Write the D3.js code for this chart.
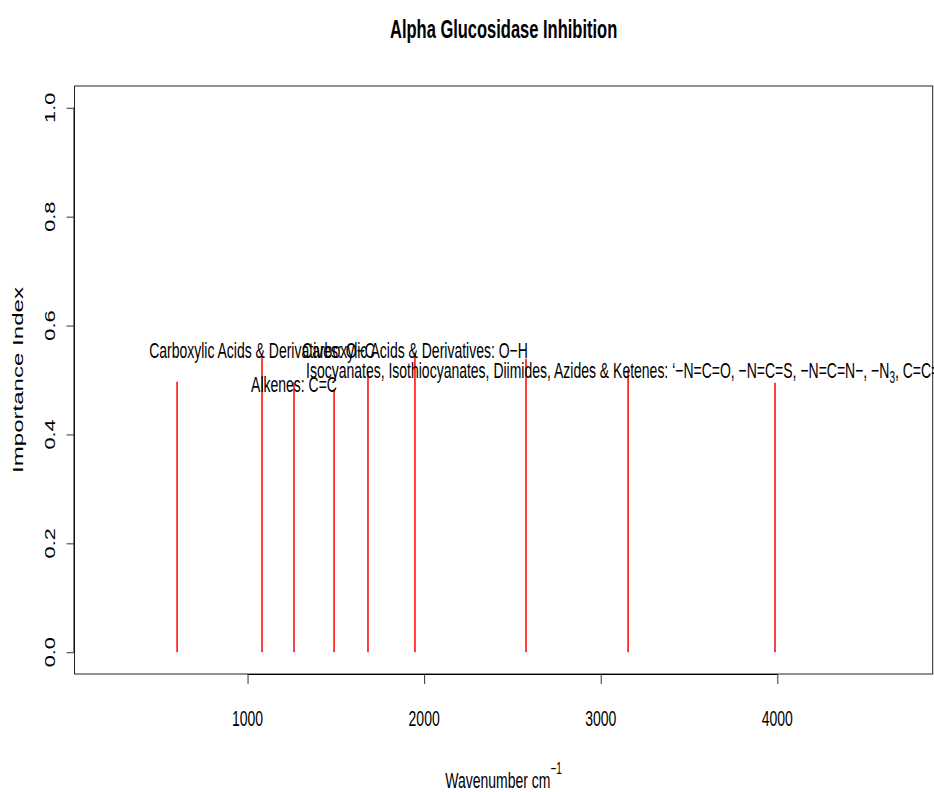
<!DOCTYPE html>
<html>
<head>
<meta charset="utf-8">
<script src="https://cdn.jsdelivr.net/npm/d3@7"></script>
<style>
  body { margin: 0; background: #fff; }
  text { font-family: "Liberation Sans", Arial, sans-serif; fill: #000; }
</style>
</head>
<body>
<div id="viz"></div>
<script>
let w = 934;
let h = 792;

// peaks
const wavenumbers = [601, 1082, 1263, 1490, 1682, 1948, 2577, 3155, 3987];
const importance = [0.497, 0.542, 0.496, 0.483, 0.515, 0.550, 0.539, 0.519, 0.495];

// labels (x in cm-1, y in importance units)
const labelX = [1082, 1263, 1948, 3155];
const labelY = [0.555, 0.492, 0.555, 0.519];
const labelText = [
    "Carboxylic Acids & Derivatives: O\u2212C",
    "Alkenes: C=C",
    "Carboxylic Acids & Derivatives: O\u2212H",
    "Isocyanates, Isothiocyanates, Diimides, Azides & Ketenes: \u2018\u2212N=C=O, \u2212N=C=S, \u2212N=C=N\u2212, \u2212N_{3}, C=C=O"
];

const xTicks = [1000, 2000, 3000, 4000];
const yTicks = [0, 0.2, 0.4, 0.6, 0.8, 1.0];

let box = {left: 74.5, right: 932.7, top: 86, bottom: 674};
let sy = 1.6; // text in the picture is stretched vertically

let svg = d3.select("#viz")
    .append("svg")
    .attr("width", w)
    .attr("height", h);

let x = d3.scaleLinear().domain([20, 4880]).range([box.left, box.right]);
let y = d3.scaleLinear().domain([-0.04, 1.04]).range([box.bottom, box.top]);

// helper for horizontal stretched text
function hText(px, py, size, str, weight) {
    let g = svg.append("g")
        .attr("transform", "translate(" + px + "," + py + ") scale(1," + sy + ")");
    let t = g.append("text")
        .attr("text-anchor", "middle")
        .attr("dy", "0.36em")
        .attr("font-size", size)
        .attr("font-weight", weight || "normal");
    return t;
}

// title
hText((box.left + box.right) / 2, 28, 16.5, "", "bold")
    .text("Alpha Glucosidase Inhibition");

// plot box
svg.append("rect")
    .attr("x", box.left)
    .attr("y", box.top)
    .attr("width", box.right - box.left)
    .attr("height", box.bottom - box.top)
    .attr("fill", "none")
    .attr("stroke", "#222")
    .attr("stroke-width", 1);

// x axis
let xAxis = d3.axisBottom(x)
    .tickValues(xTicks)
    .tickSize(10)
    .tickFormat("");
let xg = svg.append("g")
    .attr("transform", "translate(0," + box.bottom + ")")
    .call(xAxis);
xg.select(".domain")
    .attr("d", "M" + x(xTicks[0]) + ",0.5H" + x(xTicks[xTicks.length - 1]))
    .attr("stroke", "#000")
    .attr("stroke-width", 1.2);
xg.selectAll(".tick line").attr("stroke", "#333");

xTicks.forEach(function (v) {
    hText(x(v), 718, 14, "").text(d3.format("d")(v));
});

// y axis
let yAxis = d3.axisLeft(y)
    .tickValues(yTicks)
    .tickSize(8)
    .tickFormat("");
let yg = svg.append("g")
    .attr("transform", "translate(" + box.left + ",0)")
    .call(yAxis);
yg.select(".domain")
    .attr("d", "M-0.5," + y(yTicks[0]) + "V" + y(yTicks[yTicks.length - 1]))
    .attr("stroke", "#000");
yg.selectAll(".tick line").attr("stroke", "#333");

yTicks.forEach(function (v) {
    svg.append("g")
        .attr("transform", "translate(50," + y(v) + ") rotate(-90) scale(1.45,1)")
        .append("text")
        .attr("text-anchor", "middle")
        .attr("dy", "0.36em")
        .attr("font-size", 15)
        .text(d3.format(".1f")(v));
});

// axis titles
svg.append("g")
    .attr("transform", "translate(18," + ((box.top + box.bottom) / 2) + ") rotate(-90) scale(1.72,1)")
    .append("text")
    .attr("text-anchor", "middle")
    .attr("dy", "0.36em")
    .attr("font-size", 14)
    .text("Importance Index");

let xt = hText((box.left + box.right) / 2, 780, 14, "");
xt.append("tspan").text("Wavenumber cm");
xt.append("tspan").attr("font-size", 10).attr("dy", "-0.9em").text("\u22121");

// peaks
svg.selectAll(".peak")
    .data(wavenumbers)
    .enter()
    .append("line")
    .attr("class", "peak")
    .attr("x1", d => x(d))
    .attr("x2", d => x(d))
    .attr("y1", y(0))
    .attr("y2", (d, i) => y(importance[i]))
    .attr("stroke", "red")
    .attr("stroke-width", 1.5);

// peak labels, "_{..}" marks a subscript
labelText.forEach(function (str, i) {
    let t = hText(x(labelX[i]), y(labelY[i]), 14, "");
    let parts = str.split(/_\{([^}]*)\}/);
    parts.forEach(function (p, j) {
        if (j % 2 == 0) {
            t.append("tspan").attr("dy", j > 0 ? "-0.25em" : null).text(p);
        } else {
            t.append("tspan").attr("font-size", 10).attr("dy", "0.35em").text(p);
        }
    });
});
</script>
</body>
</html>
